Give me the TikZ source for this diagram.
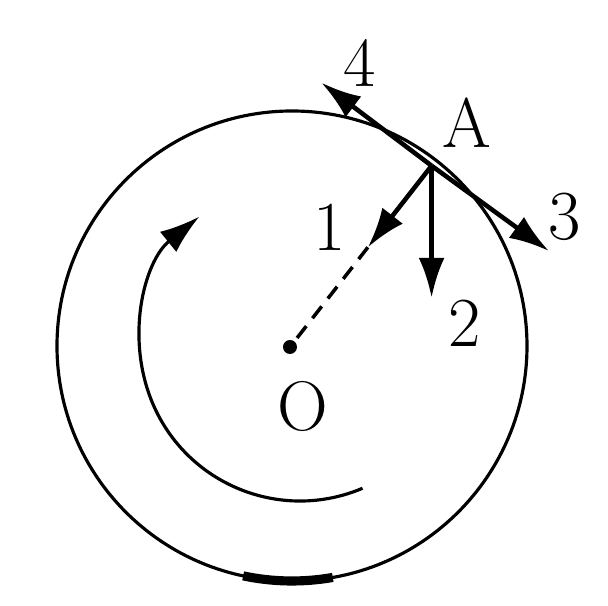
\documentclass[tikz,border=0pt]{standalone}
\usepackage{tikz}
\usetikzlibrary{positioning,arrows.meta,calc}
\begin{document}
\begin{tikzpicture}[
  every node/.style={font=\fontsize{20}{24}\selectfont,inner sep=1pt},
  rim/.style={draw=black,line width=0.9pt},
  vec/.style={draw=black,line width=1.3pt,-{Latex[length=4mm,width=2.6mm]}}
]
  \useasboundingbox (0,0) rectangle (6.08,6.06);

  % 円板
  \coordinate (O) at (2.90,2.59);
  \coordinate (C) at (2.92,2.60);
  \draw[rim] (C) circle (2.35);
  \draw[line width=2.6pt]
    ($(C)+(258:2.35)$) arc[start angle=258,end angle=280,radius=2.35];

  % 回転の向き
  \draw[rim,-{Latex[length=4mm,width=2.6mm]}]
    ($(3.0,2.65)+(-67:1.6)$) arc[start angle=-67,end angle=-231,radius=1.6];

  % 中心 O
  \fill (O) circle (0.07);
  \node (lO) at (3.03,1.99) {O};

  % 点 A とベクトル
  \coordinate (A) at ($(O)+(52:2.3)$);
  \coordinate (v1) at ($(A)!0.45!(O)$);
  \coordinate (v2) at ($(A)+(0,-1.32)$);
  \coordinate (v3) at ($(A)+(-36:1.45)$);
  \coordinate (v4) at ($(A)+(143:1.38)$);

  \draw[line width=1pt,dash pattern=on 1.5mm off 1mm] (v1) -- (O);
  \draw[vec] (A) -- (v1);
  \draw[vec] (A) -- (v2);
  \draw[vec] (A) -- (v3);
  \draw[vec] (A) -- (v4);

  % 記号
  \node (lA) at (4.67,4.83) {A};
  \node (l1) at (3.30,3.79) {1};
  \node (l2) at (4.65,2.83) {2};
  \node (l3) at (5.65,3.89) {3};
  \node (l4) at (3.60,5.43) {4};
\end{tikzpicture}
\end{document}
